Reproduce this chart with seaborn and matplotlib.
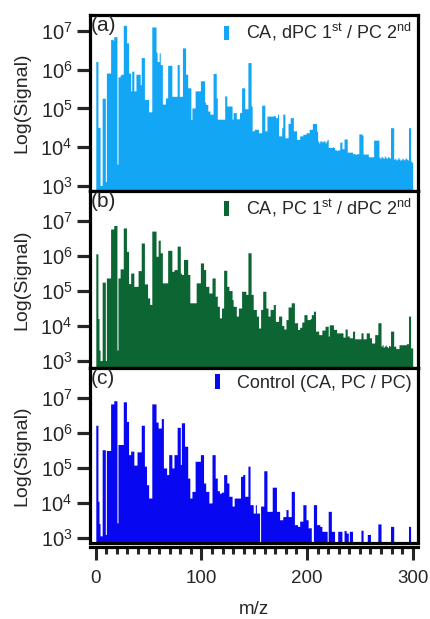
import numpy as np
import matplotlib
matplotlib.use("Agg")
import matplotlib.pyplot as plt
from matplotlib.ticker import MultipleLocator, NullLocator, FixedLocator
import seaborn as sns

# m/z axis (integer bins 1..300)
mz = np.arange(1, 301)

# log10(signal), one value per m/z (0 = no signal)
log_signal_a = [
    6.2, 6.2, 4.5, 4.5, 3.0, 3.0, 5.25, 5.25, 5.25, 3.1,
    5.9, 5.9, 5.9, 5.9, 6.77, 6.77, 6.75, 6.84, 6.84, 6.84,
    3.55, 5.8, 5.8, 5.85, 5.87, 5.87, 7.13, 7.13, 7.13, 6.68,
    6.68, 5.9, 5.9, 5.44, 5.95, 5.95, 5.44, 5.44, 5.87, 5.87,
    5.87, 5.87, 5.6, 6.3, 6.3, 6.3, 5.22, 5.22, 5.22, 5.22,
    4.9, 4.9, 4.9, 7.09, 7.09, 7.09, 7.09, 6.44, 6.2, 6.2,
    6.42, 6.12, 6.12, 5.1, 5.1, 5.1, 5.26, 5.26, 6.1, 6.1,
    6.1, 6.1, 5.3, 5.3, 5.3, 5.3, 5.3, 6.12, 6.12, 5.3,
    5.3, 5.3, 6.55, 6.55, 6.55, 5.87, 5.87, 5.52, 5.52, 5.52,
    4.7, 5.0, 5.0, 5.0, 5.44, 5.44, 5.44, 5.44, 5.44, 5.7,
    5.7, 5.7, 5.7, 5.15, 5.09, 5.09, 4.92, 4.92, 4.84, 4.84,
    4.84, 5.89, 5.89, 5.89, 5.26, 4.71, 4.71, 4.71, 4.71, 4.71,
    4.71, 4.71, 5.31, 5.31, 5.05, 5.05, 5.05, 5.05, 5.05, 4.71,
    4.88, 4.88, 4.88, 4.72, 4.72, 4.72, 4.88, 4.88, 5.52, 5.52,
    5.52, 4.98, 4.98, 4.98, 6.17, 6.17, 6.17, 5.05, 4.41, 4.41,
    4.45, 4.45, 4.45, 4.45, 4.36, 4.36, 4.36, 5.07, 5.07, 5.07,
    4.41, 4.41, 4.79, 4.79, 4.79, 4.79, 4.79, 4.79, 4.8, 4.8,
    4.75, 4.75, 4.84, 4.28, 4.28, 4.28, 4.49, 4.84, 4.84, 4.23,
    4.23, 4.23, 4.6, 4.6, 4.75, 4.75, 4.75, 4.41, 4.41, 4.41,
    4.19, 4.19, 4.19, 4.28, 4.28, 4.28, 4.32, 4.32, 4.32, 4.36,
    4.36, 4.36, 4.45, 4.45, 4.45, 4.6, 4.6, 4.6, 4.6, 4.4,
    4.15, 4.1, 4.15, 4.15, 4.12, 4.15, 4.15, 4.1, 4.15, 4.19,
    3.98, 3.98, 3.98, 3.98, 4.0, 3.98, 3.92, 3.92, 3.9, 3.92,
    3.92, 4.12, 4.12, 3.95, 3.95, 4.2, 4.2, 4.2, 3.86, 3.86,
    3.86, 3.86, 3.86, 3.82, 3.82, 3.82, 3.8, 3.82, 3.82, 4.33,
    4.33, 4.33, 4.3, 3.81, 3.81, 3.81, 3.81, 3.81, 3.74, 3.74,
    3.74, 3.74, 3.74, 4.17, 4.17, 4.17, 4.17, 4.17, 3.73, 3.7,
    3.75, 3.73, 3.7, 3.76, 3.73, 3.7, 3.74, 3.73, 3.71, 4.49,
    4.49, 4.49, 3.68, 3.7, 3.66, 3.68, 3.72, 3.68, 3.65, 3.68,
    3.7, 3.66, 3.68, 3.71, 3.68, 3.66, 4.49, 4.49, 3.63, 3.6,
]

log_signal_b = [
    6.05, 6.05, 4.2, 3.3, 3.0, 3.0, 5.24, 5.24, 5.24, 3.0,
    5.36, 5.36, 5.36, 5.36, 6.76, 6.76, 6.76, 6.86, 6.86, 6.86,
    3.3, 5.36, 5.36, 5.62, 5.62, 5.62, 6.79, 6.79, 6.79, 6.12,
    6.12, 5.2, 5.2, 5.5, 5.5, 5.5, 5.12, 5.12, 5.12, 5.12,
    5.57, 5.57, 5.57, 6.36, 6.36, 6.36, 5.19, 5.19, 5.19, 4.79,
    4.79, 4.6, 4.6, 6.7, 6.7, 6.7, 6.7, 5.98, 5.98, 6.44,
    6.44, 6.08, 6.08, 5.22, 5.22, 5.22, 5.22, 5.22, 6.15, 6.15,
    6.15, 6.15, 5.55, 5.55, 5.6, 5.6, 5.6, 6.27, 6.27, 6.27,
    5.5, 5.46, 5.46, 5.89, 5.89, 5.89, 5.89, 5.46, 5.46, 4.65,
    4.65, 4.65, 4.65, 4.65, 4.65, 5.22, 5.22, 5.22, 5.22, 5.79,
    5.79, 5.79, 5.6, 5.6, 5.12, 5.12, 5.12, 4.93, 4.93, 4.93,
    5.36, 5.36, 5.36, 4.84, 4.84, 4.55, 4.55, 4.22, 4.22, 4.5,
    4.5, 5.58, 5.58, 5.58, 5.12, 5.12, 5.0, 5.0, 5.0, 4.74,
    4.55, 4.55, 4.55, 4.27, 4.27, 4.5, 4.5, 4.5, 4.98, 4.98,
    4.98, 4.98, 4.89, 4.89, 6.08, 6.08, 6.08, 4.89, 4.89, 4.46,
    4.46, 4.46, 4.27, 4.27, 3.93, 3.93, 4.46, 4.46, 4.98, 4.98,
    4.98, 4.5, 4.5, 4.27, 4.27, 4.46, 4.46, 4.46, 4.6, 4.6,
    4.12, 4.12, 4.12, 4.27, 4.27, 4.27, 4.0, 4.0, 3.9, 3.9,
    4.17, 4.17, 4.53, 4.53, 4.53, 4.65, 4.65, 4.65, 4.08, 4.08,
    4.08, 3.89, 3.89, 3.95, 3.95, 4.1, 4.1, 4.31, 4.31, 4.31,
    4.17, 4.17, 4.17, 4.2, 4.31, 4.31, 4.41, 4.41, 3.84, 3.84,
    3.84, 3.74, 3.74, 3.74, 3.87, 3.87, 3.87, 3.98, 3.98, 3.98,
    3.7, 4.02, 4.02, 4.02, 4.02, 3.89, 3.89, 3.89, 3.79, 3.79,
    3.79, 3.79, 3.79, 3.79, 3.67, 3.67, 3.9, 3.9, 3.7, 3.7,
    3.65, 3.65, 3.65, 3.84, 3.84, 3.62, 3.62, 3.62, 3.62, 3.62,
    3.62, 3.79, 3.79, 3.62, 3.62, 3.62, 3.79, 3.79, 3.79, 3.65,
    3.65, 3.5, 3.5, 3.5, 3.74, 3.74, 3.74, 4.08, 4.08, 4.08,
    3.41, 3.45, 3.38, 3.41, 3.44, 3.4, 3.37, 3.43, 3.41, 3.84,
    3.84, 3.84, 3.41, 3.41, 3.34, 3.34, 3.34, 3.45, 3.45, 3.45,
    3.45, 3.45, 3.45, 3.45, 3.48, 3.48, 4.27, 4.27, 3.36, 3.36,
]

log_signal_c = [
    6.21, 6.21, 4.04, 3.4, 3.05, 3.05, 5.51, 5.51, 5.51, 3.09,
    5.49, 5.49, 5.49, 5.49, 6.82, 6.82, 6.82, 6.91, 6.91, 6.91,
    3.42, 5.66, 5.66, 5.66, 5.66, 5.66, 6.88, 6.88, 6.88, 6.32,
    6.32, 5.37, 5.37, 5.47, 5.47, 5.47, 5.07, 5.07, 5.07, 5.45,
    5.45, 5.45, 5.45, 6.21, 6.21, 6.21, 5.04, 5.04, 4.51, 4.51,
    4.13, 4.13, 4.13, 6.82, 6.82, 6.82, 6.82, 6.3, 6.3, 6.13,
    6.13, 6.13, 6.4, 6.4, 4.99, 4.99, 4.99, 4.8, 4.8, 5.37,
    5.37, 5.37, 4.99, 4.99, 5.37, 5.37, 5.37, 6.15, 6.15, 6.15,
    5.09, 6.28, 6.28, 6.28, 5.61, 5.61, 5.61, 4.7, 4.7, 4.13,
    4.13, 4.32, 4.32, 4.32, 5.18, 5.18, 5.18, 5.18, 5.18, 5.37,
    5.37, 5.37, 4.56, 4.56, 4.32, 4.32, 4.32, 3.99, 3.99, 3.99,
    5.37, 5.37, 5.37, 4.7, 4.7, 4.34, 4.34, 4.27, 4.27, 4.3,
    4.3, 4.8, 4.8, 4.8, 4.56, 4.56, 4.18, 4.18, 4.18, 3.9,
    3.9, 4.13, 4.13, 4.13, 4.13, 4.13, 4.13, 4.75, 4.75, 4.8,
    4.8, 4.18, 4.18, 4.18, 5.04, 5.04, 3.94, 3.94, 3.94, 3.7,
    3.7, 3.94, 3.7, 3.7, 3.7, 0, 3.9, 3.9, 3.9, 4.91,
    4.91, 4.91, 3.75, 3.75, 3.75, 3.75, 3.75, 4.44, 4.44, 4.44,
    4.44, 3.75, 3.75, 3.75, 3.51, 3.51, 3.51, 3.6, 3.6, 3.6,
    3.8, 3.8, 3.6, 3.6, 3.6, 4.32, 4.32, 4.32, 3.37, 3.37,
    3.37, 3.32, 3.32, 3.47, 3.47, 3.47, 3.94, 3.94, 3.94, 3.51,
    3.51, 3.28, 3.28, 3.28, 0, 0, 3.94, 3.94, 3.94, 3.37,
    3.37, 3.37, 3.32, 3.32, 3.18, 3.18, 3.18, 3.18, 3.18, 0,
    3.75, 3.75, 3.75, 3.18, 3.18, 3.18, 0, 0, 0, 3.18,
    3.18, 3.18, 3.18, 0, 0, 3.2, 3.2, 3.13, 3.13, 0,
    3.18, 3.18, 3.18, 0, 0, 0, 0, 0, 0, 0,
    0, 3.21, 3.21, 0, 0, 0, 0, 3.09, 3.09, 3.09,
    0, 0, 0, 0, 0, 0, 0, 3.39, 3.39, 3.39,
    0, 0, 0, 0, 0, 0, 0, 0, 0, 3.32,
    3.32, 3.32, 0, 0, 0, 0, 0, 0, 0, 0,
    0, 0, 0, 0, 0, 0, 3.32, 3.32, 0, 0,
]

labels = [r"CA, dPC 1$^{st}$ / PC 2$^{nd}$",
          r"CA, PC 1$^{st}$ / dPC 2$^{nd}$",
          "Control (CA, PC / PC)"]
panel_tags = ["(a)", "(b)", "(c)"]
colors = ["#12A6F4", "#0B6633", "#0707F2"]
x_ticks = [0, 100, 200, 300]
y_ticks = [1e3, 1e4, 1e5, 1e6, 1e7]

sns.set_style("ticks")
plt.rcParams["font.family"] = ["Liberation Sans", "DejaVu Sans"]
plt.rcParams["mathtext.default"] = "regular"

fig = plt.figure(figsize=(4.3, 6.19), dpi=100)

# axes boxes (left, bottom, width, height) in figure fractions
boxes = [(0.209, 0.6914, 0.763, 0.2843),
         (0.209, 0.4055, 0.763, 0.2859),
         (0.209, 0.1228, 0.763, 0.2827)]
ylims = [(10 ** 2.87, 10 ** 7.41), (10 ** 2.8, 10 ** 7.86), (10 ** 2.86, 10 ** 7.86)]

for i, log_vals in enumerate([log_signal_a, log_signal_b, log_signal_c]):
    log_vals = np.array(log_vals)
    signal = np.where(log_vals > 0, 10 ** log_vals, 0.0)

    ax = fig.add_axes(boxes[i])
    sns.histplot(x=mz, weights=signal, discrete=True, element="step", fill=True,
                 color=colors[i], alpha=1, linewidth=0, ax=ax, label=labels[i])
    ax.set_yscale("log")
    ax.set_ylim(*ylims[i])
    ax.set_xlim(-5.6, 305)

    ax.yaxis.set_major_locator(FixedLocator(y_ticks))
    ax.yaxis.set_minor_locator(NullLocator())
    ax.tick_params(axis="y", direction="out", length=9.5, width=2.3, labelsize=14.5, pad=3)
    ax.set_ylabel("Log(Signal)", fontsize=14, labelpad=7)

    for sp in ax.spines.values():
        sp.set_linewidth(2.3)
        sp.set_color("black")

    ax.text(0.002, 0.995, panel_tags[i], transform=ax.transAxes, ha="left", va="top", fontsize=15)
    ax.legend(loc="upper right", frameon=False, fontsize=13, handlelength=0.25,
              handleheight=0.85, handletextpad=0.95, borderaxespad=0.1, borderpad=0.25)

    if i < 2:
        ax.tick_params(axis="x", bottom=False, labelbottom=False)
        ax.set_xlabel("")
    else:
        ax.spines["bottom"].set_position(("outward", 3))
        ax.plot([0, 1], [0, 0], transform=ax.transAxes, color="black", lw=2.3, clip_on=False)
        ax.xaxis.set_major_locator(FixedLocator(x_ticks))
        ax.xaxis.set_minor_locator(MultipleLocator(10))
        ax.tick_params(axis="x", which="major", direction="out", length=9.5, width=2.2, labelsize=13.5, pad=7)
        ax.tick_params(axis="x", which="minor", direction="out", length=5, width=2.2)
        ax.set_xlabel("m/z", fontsize=13.5, labelpad=10)

fig.savefig("out.png", dpi=100)
